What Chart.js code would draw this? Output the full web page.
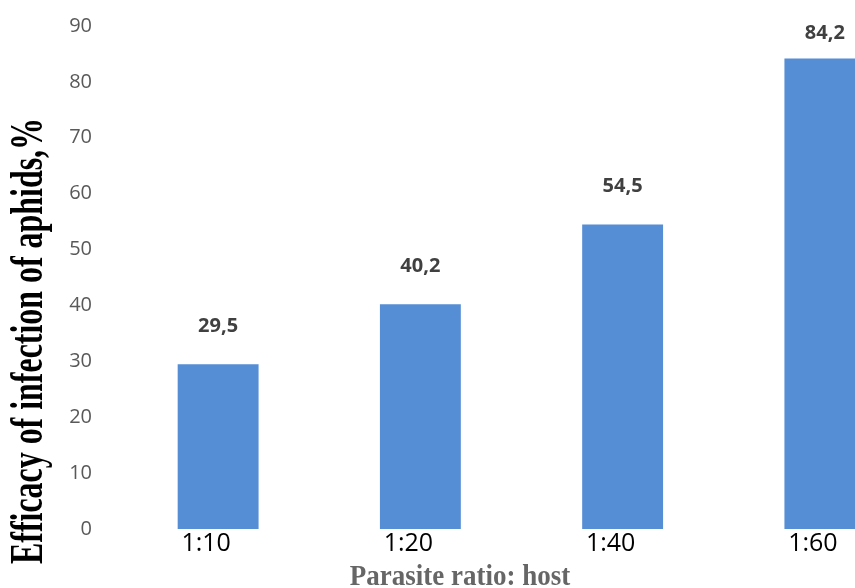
<!DOCTYPE html>
<html>
<head>
<meta charset="utf-8">
<script src="https://cdn.jsdelivr.net/npm/chart.js@4/dist/chart.umd.min.js"></script>
<style>
  html, body { margin: 0; padding: 0; width: 855px; height: 588px; overflow: hidden; background: #fff; }
  #wrap { width: 926px; height: 588px; }
</style>
</head>
<body>
<div id="wrap"><canvas id="c" width="926" height="588"></canvas></div>
<script>
const categories = ['1:10', '1:20', '1:40', '1:60'];
const efficacy = [29.5, 40.2, 54.5, 84.2];
const yTicks = [0, 10, 20, 30, 40, 50, 60, 70, 80, 90];
const yTitle = 'Efficacy of infection of aphids,%';
const xTitle = 'Parasite ratio: host';

// value labels above bars and the two axis titles
const annotate = {
  id: 'annotate',
  afterDatasetsDraw(chart) {
    const ctx = chart.ctx;
    const meta = chart.getDatasetMeta(0);
    ctx.save();
    ctx.font = 'bold 20px "Open Sans"';
    ctx.fillStyle = '#404040';
    ctx.textAlign = 'center';
    ctx.textBaseline = 'middle';
    meta.data.forEach((bar, i) => {
      const txt = String(efficacy[i]).replace('.', ',');
      ctx.fillText(txt, bar.x, Math.max(bar.y - 38, 33.5));
    });
    ctx.restore();

    // y-axis title, condensed serif
    ctx.save();
    ctx.translate(42, 341);
    ctx.rotate(-Math.PI / 2);
    ctx.scale(0.694, 1);
    ctx.font = 'bold 46px "Liberation Serif"';
    ctx.fillStyle = '#000';
    ctx.textAlign = 'center';
    ctx.textBaseline = 'alphabetic';
    ctx.fillText(yTitle, 0, 0);
    ctx.restore();

    // x-axis title
    ctx.save();
    ctx.translate(460, 585);
    ctx.scale(1, 1.1);
    ctx.font = 'bold 27px "Liberation Serif"';
    ctx.fillStyle = '#666666';
    ctx.textAlign = 'center';
    ctx.textBaseline = 'alphabetic';
    ctx.fillText(xTitle, 0, 0);
    ctx.restore();
  }
};

new Chart(document.getElementById('c'), {
  type: 'bar',
  data: {
    labels: categories,
    datasets: [{
      data: efficacy,
      backgroundColor: '#558ED5',
      borderWidth: 0,
      barPercentage: 0.4,
      categoryPercentage: 1.0
    }]
  },
  options: {
    responsive: false,
    animation: false,
    devicePixelRatio: 1,
    layout: { padding: { top: 26, left: 0, right: 0, bottom: 0 } },
    plugins: { legend: { display: false }, tooltip: { enabled: false } },
    scales: {
      x: {
        grid: { display: false, drawTicks: false },
        border: { display: false },
        ticks: {
          color: '#000',
          font: { family: 'Open Sans', size: 25 },
          padding: 0,
          labelOffset: -12,
          maxRotation: 0
        },
        afterFit(scale) { scale.height = 59; }
      },
      y: {
        min: 0,
        max: 90,
        afterBuildTicks(scale) { scale.ticks = yTicks.map(v => ({ value: v })); },
        grid: { display: false, drawTicks: false },
        border: { display: false },
        ticks: {
          color: '#595959',
          font: { family: 'Open Sans', size: 20 },
          padding: 25
        },
        afterFit(scale) {
          scale.width = 117;
          scale.paddingTop = 0;
          scale.paddingBottom = 0;
        }
      }
    }
  },
  plugins: [annotate]
});
</script>
</body>
</html>
